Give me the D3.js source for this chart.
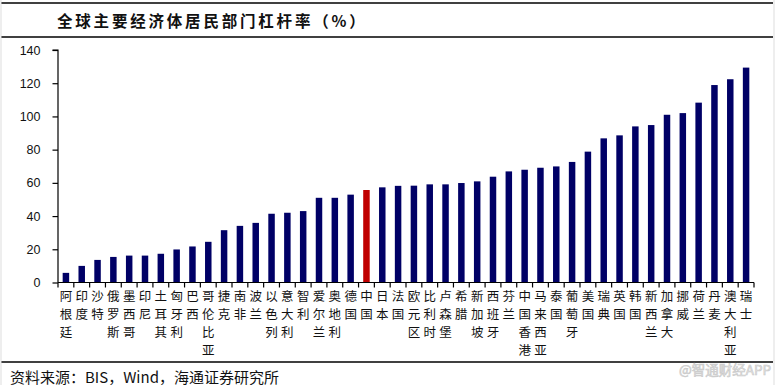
<!DOCTYPE html>
<html>
<head>
<meta charset="utf-8">
<script src="https://cdn.jsdelivr.net/npm/d3@7"></script>
<style>
  html, body { margin: 0; padding: 0; background: #fff; }
  svg { display: block; }
</style>
</head>
<body>
<svg id="chart" width="775" height="385"></svg>
<script>
const titleText = "全球主要经济体居民部门杠杆率（%）";
const sourceText = "资料来源：BIS，Wind，海通证券研究所";
const watermarkText = "@智通财经APP";

const categories = ["阿根廷","印度","沙特","俄罗斯","墨西哥","印尼","土耳其","匈牙利","巴西","哥伦比亚",
  "捷克","南非","波兰","以色列","意大利","智利","爱尔兰","奥地利","德国","中国",
  "日本","法国","欧元区","比利时","卢森堡","希腊","新加坡","西班牙","芬兰","中国香港",
  "马来西亚","泰国","葡萄牙","美国","瑞典","英国","韩国","新西兰","加拿大","挪威",
  "荷兰","丹麦","澳大利亚","瑞士"];
const values = [5.8,10.0,13.6,15.4,16.2,16.2,17.3,19.9,21.7,24.5,
  31.5,34.1,35.9,41.4,42.0,43.0,51.0,51.0,52.9,55.7,
  57.3,58.2,58.3,59.1,59.1,59.9,60.9,63.7,66.9,67.9,
  69.1,69.9,72.6,78.8,86.8,88.6,94.0,94.8,101.0,102.0,
  108.3,118.9,122.4,129.4];
const highlight = ["中国"];
const yTicks = [0,20,40,60,80,100,120,140];

const svg = d3.select("#chart");
const W = 775, H = 385;
const plot = {left: 58, right: 754, top: 50, bottom: 282.5};

// frame lines
svg.append("line").attr("x1",1).attr("x2",773).attr("y1",3).attr("y2",3).attr("stroke","#000").attr("stroke-width",1.3);
svg.append("line").attr("x1",1).attr("x2",773).attr("y1",37).attr("y2",37).attr("stroke","#000").attr("stroke-width",1.3);
svg.append("line").attr("x1",1).attr("x2",773).attr("y1",362).attr("y2",362).attr("stroke","#000").attr("stroke-width",1.3);
svg.append("line").attr("x1",1).attr("x2",1).attr("y1",0).attr("y2",H).attr("stroke","#ddd").attr("stroke-width",1);
svg.append("line").attr("x1",774).attr("x2",774).attr("y1",0).attr("y2",H).attr("stroke","#ddd").attr("stroke-width",1);

// title
svg.append("text")
  .attr("x", 57).attr("y", 20)
  .attr("dominant-baseline","central")
  .attr("font-family","'Noto Sans CJK SC', sans-serif")
  .attr("font-size", 15.5).attr("font-weight","bold")
  .attr("letter-spacing", 2.8)
  .attr("fill","#111")
  .text(titleText);

const x = d3.scaleBand().domain(categories).range([plot.left, plot.right]).padding(0);
const y = d3.scaleLinear().domain([0,140]).range([plot.bottom, plot.top]);
const barW = x.bandwidth() * 0.41;

// bars
svg.append("g").selectAll("rect").data(categories).join("rect")
  .attr("x", (d) => x(d) + x.bandwidth()/2 - barW/2)
  .attr("width", barW)
  .attr("y", (d,i) => y(values[i]))
  .attr("height", (d,i) => y(0) - y(values[i]))
  .attr("fill", d => highlight.includes(d) ? "#c00000" : "#000066");

// y axis
const yAxis = d3.axisLeft(y).tickValues(yTicks).tickSize(5.5).tickPadding(12).tickFormat(d3.format("d"));
const gy = svg.append("g").attr("transform",`translate(${plot.left},0)`).call(yAxis);
gy.select(".domain").attr("stroke","#000").attr("stroke-width",1.2).attr("d", `M-5.5,${plot.top}H0V${plot.bottom}`);
gy.selectAll(".tick line").attr("stroke","#000").attr("stroke-width",1.2);
gy.selectAll(".tick text").attr("font-family","'Liberation Sans', Arial, sans-serif").attr("font-size",12.5).attr("fill","#111");

// x axis line + ticks at boundaries
const boundaries = categories.map(c => x(c)).concat([plot.right]);
svg.append("line").attr("x1",plot.left).attr("x2",plot.right).attr("y1",plot.bottom).attr("y2",plot.bottom).attr("stroke","#000").attr("stroke-width",1.2);
svg.append("g").selectAll("line").data(boundaries).join("line")
  .attr("x1", d=>d).attr("x2", d=>d).attr("y1", plot.bottom).attr("y2", plot.bottom+5)
  .attr("stroke","#000").attr("stroke-width",1.2);

// vertical category labels
const lab = svg.append("g").selectAll("text").data(categories).join("text")
  .attr("font-family","'Noto Sans CJK SC', sans-serif")
  .attr("font-size", 12.5)
  .attr("fill","#111")
  .attr("text-anchor","middle");
lab.each(function(d){
  const t = d3.select(this);
  const cx = x(d) + x.bandwidth()/2;
  Array.from(d).forEach((ch, k) => {
    t.append("tspan").attr("x", cx).attr("y", 295 + k*18.3).attr("dominant-baseline","central").text(ch);
  });
});

// source
svg.append("text")
  .attr("x", 10).attr("y", 376)
  .attr("dominant-baseline","central")
  .attr("font-family","'Noto Sans CJK SC', sans-serif")
  .attr("font-size", 15)
  .attr("fill","#111")
  .text(sourceText);

// watermark
svg.append("text")
  .attr("x", 771).attr("y", 369)
  .attr("text-anchor","end")
  .attr("dominant-baseline","central")
  .attr("font-family","'Noto Sans CJK SC', sans-serif")
  .attr("font-size", 13.5)
  .attr("fill","#e6e6e6").attr("stroke","#c8c8c8").attr("stroke-width",0.6)
  .text(watermarkText);
</script>
</body>
</html>
